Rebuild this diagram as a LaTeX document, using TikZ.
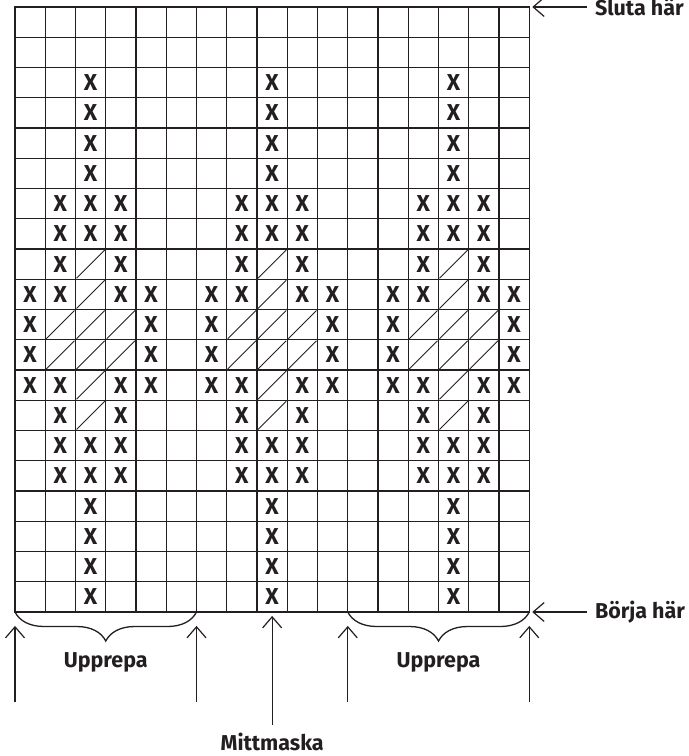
\documentclass[tikz,border=0pt]{standalone}
\usepackage{fontspec}
\setmainfont{Fira Sans}
\usetikzlibrary{arrows.meta,positioning,decorations.pathreplacing}
\definecolor{chartink}{RGB}{35,31,32}

\begin{document}
\begin{tikzpicture}[x=30.25pt, y=-30.25pt,
  gridline/.style={chartink, line width=1.4pt, line cap=rect},
  xmark/.style={font=\fontsize{23}{23}\selectfont\bfseries, text=chartink, inner sep=0pt},
  slashmark/.style={chartink, line width=1pt, shorten <=1.5pt, shorten >=1.5pt},
  lbl/.style={font=\fontsize{21.5}{24}\selectfont\bfseries, text=chartink, inner sep=2pt},
  pointer/.style={-{Straight Barb[length=11pt,width=19pt]}, line width=1.2pt, chartink},
  repbrace/.style={decorate, decoration={brace, mirror, amplitude=29pt}, line width=1.3pt, chartink}]
  \useasboundingbox (-0.496,-0.231) rectangle (22.28,24.76);
  % Chart grid, 17 stitches x 20 rows
  \foreach \c in {0,...,17} \draw[gridline] (\c,0) -- (\c,20);
  \foreach \r in {0,...,20} \draw[gridline] (0,\r) -- (17,\r);
  \coordinate (gridTR) at (17,0);
  \coordinate (gridBR) at (17,20);
  % Motif, repeated every 6 stitches
  \foreach \s in {0,6,12} {
    \foreach \c/\r in {2/2,2/3,2/4,2/5,1/6,2/6,3/6,1/7,2/7,3/7,1/8,3/8,0/9,1/9,3/9,4/9,
                       0/10,4/10,0/11,4/11,0/12,1/12,3/12,4/12,1/13,3/13,
                       1/14,2/14,3/14,1/15,2/15,3/15,2/16,2/17,2/18,2/19}
      \node[xmark] (x-\s-\c-\r) at (\s+\c+0.5,\r+0.5) {X};
    \foreach \c/\r in {2/8,2/9,1/10,2/10,3/10,1/11,2/11,3/11,2/12,2/13}
      \draw[slashmark] (\s+\c,\r+1) -- (\s+\c+1,\r);
  }
  % Start and end of chart
  \node[lbl, anchor=west] (stop) at (19.1,0) {Sluta här};
  \draw[pointer, shorten <=6pt] (stop.west) -- ([xshift=3pt]gridTR);
  \node[lbl, anchor=west] (start) at (19.1,20) {Börja här};
  \draw[pointer, shorten <=6pt] (start.west) -- ([xshift=3pt]gridBR);
  % Repeats
  \draw[repbrace] (0,20) -- (6,20);
  \draw[repbrace] (11,20) -- (17,20);
  \node[lbl] (rep1) at (3,21.66) {Upprepa};
  \node[lbl] (rep2) at (14,21.66) {Upprepa};
  \foreach \c in {0,6,11,17} {
    \coordinate (foot-\c) at (\c,22.98);
    \coordinate (head-\c) at (\c,20.46);
    \draw[pointer] (foot-\c) -- (head-\c);
  }
  % Centre stitch
  \node[lbl] (mitt) at (8.5,24.3) {Mittmaska};
  \coordinate (mittcol) at (8.5,20.13);
  \draw[pointer] ([yshift=6pt]mitt.north) -- (mittcol);
\end{tikzpicture}
\end{document}
